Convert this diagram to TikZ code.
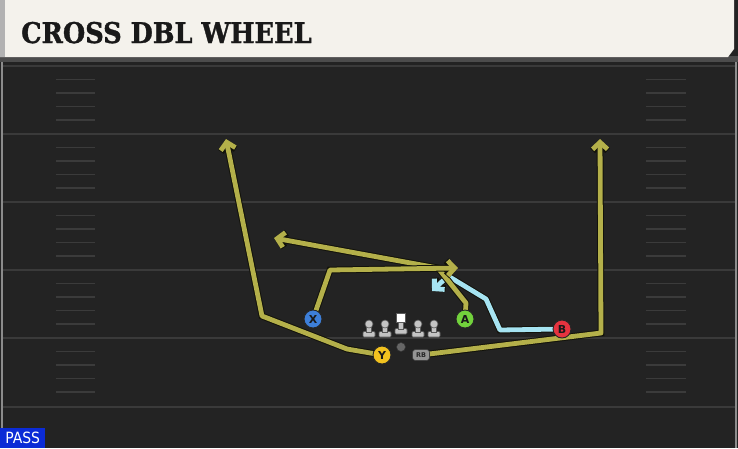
\documentclass[tikz,border=0pt]{standalone}
\usepackage{fontspec}
\setmainfont{DejaVu Sans}
\newfontfamily\titlefont[FakeBold=1.2]{DejaVu Serif Condensed Bold}
\newfontfamily\passfont{DejaVu Sans Condensed}
\usetikzlibrary{arrows.meta}
\pgfdeclarelayer{field}
\pgfdeclarelayer{routes}
\pgfsetlayers{field,routes,main}
\definecolor{fieldbg}{HTML}{232323}
\definecolor{yardline}{HTML}{3A3A3A}
\definecolor{hashc}{HTML}{3B3B3B}
\definecolor{header}{HTML}{F4F2EC}
\definecolor{routeolive}{HTML}{B4B04A}
\definecolor{routeblue}{HTML}{A6E4F2}
\definecolor{routeedge}{HTML}{12120A}
\definecolor{xblue}{HTML}{3D7FD9}
\definecolor{agreen}{HTML}{72D23C}
\definecolor{bred}{HTML}{E5333F}
\definecolor{yyellow}{HTML}{F2C21F}
\definecolor{linegrey}{HTML}{C4C4C4}
\definecolor{passblue}{HTML}{0B2BD6}
\tikzset{
  player/.style={circle, draw=black!85, line width=0.9pt, minimum size=18pt, inner sep=0pt,
                 font=\fontsize{11}{11}\selectfont\bfseries, text=black!90},
  routeo/.style={draw=routeolive, line width=4.8pt, line join=round,
                 preaction={draw=routeedge, line width=6.8pt}},
  routeb/.style={draw=routeblue, line width=4.8pt, line join=round,
                 preaction={draw=routeedge, line width=6.8pt}},
  tip/.style={-{Straight Barb[length=7pt,width=15pt,line join=miter]}},
  lman/.style={fill=linegrey, draw=black!65, line width=0.6pt},
}
\begin{document}
\begin{tikzpicture}[x=1pt,y=-1pt]
\useasboundingbox (0,0) rectangle (738,448);
\begin{pgfonlayer}{field}
  \fill[fieldbg] (0,0) rectangle (738,448);
  \fill[black!45] (1,60) rectangle (3,448);
  \fill[black!45] (735,60) rectangle (737,448);
  \fill[black!70] (0,56) rectangle (738,62);
  % header
  \fill[header] (0,0) -- (734,0) -- (734,49) -- (728,57) -- (0,57) -- cycle;
  \fill[black!30] (0,0) rectangle (5,57);
  % yard lines
  \foreach \yy in {66,134,202,270,338,407}
    \draw[yardline, line width=2pt] (3,\yy) -- (735,\yy);
  % hashes
  \foreach \yy in {66,134,202,270,338}
    \foreach \dd in {13.5,27,40.5,54}{
      \draw[hashc, line width=1.5pt] (56,\yy+\dd) -- (95,\yy+\dd);
      \draw[hashc, line width=1.5pt] (646,\yy+\dd) -- (686,\yy+\dd);
    }
\end{pgfonlayer}

\node[anchor=base west, inner sep=0pt, font=\titlefont\fontsize{28.5}{28.5}\selectfont, text=black!90]
  (title) at (21,43) {CROSS DBL WHEEL};

% pass tag
\node[fill=passblue, anchor=south west, minimum width=45pt, minimum height=20pt, inner sep=0pt,
      text=white, font=\passfont\fontsize{15.5}{15.5}\selectfont] (pass) at (0,448) {PASS};

% players
\node[player, fill=xblue] (X) at (313,319) {X};
\node[player, fill=agreen] (A) at (465,319) {A};
\node[player, fill=bred] (B) at (562,329) {B};
\node[player, fill=yyellow] (Y) at (382,355) {Y};
\node[rounded corners=3pt, fill=black!42, draw=black!75, line width=0.6pt, minimum width=17pt,
      minimum height=11pt, inner sep=0pt, font=\fontsize{6.5}{6.5}\selectfont\bfseries, text=black!85]
  (RB) at (421,355) {RB};
\node[circle, fill=black!60, draw=black!80, line width=0.5pt, minimum size=9pt, inner sep=0pt] (QB) at (401,347) {};

% linemen
\foreach \xx in {369,385,418,434}{
  \fill[lman, rounded corners=1pt] (\xx-6,331.5) rectangle (\xx+6,337);
  \fill[lman] (\xx-2.4,324) rectangle (\xx+2.4,332);
  \fill[lman] (\xx,324) circle (4pt);
}
\fill[lman, rounded corners=1pt] (395,328.5) rectangle (407,334);
\fill[lman] (398.6,321) rectangle (403.4,329);
\fill[white, draw=black!65, line width=0.6pt] (396.5,313.5) rectangle (405.5,322);

% route waypoints
\coordinate (y1) at (347,349);
\coordinate (y2) at (262,316);
\coordinate (y3) at (226,139);
\coordinate (r1) at (601,333);
\coordinate (r2) at (600,139);
\coordinate (x1) at (330,270);
\coordinate (x2) at (458,268);
\coordinate (a1) at (466,303);
\coordinate (a2) at (438,268);
\coordinate (a3) at (274,238);
\coordinate (b1) at (500,330);
\coordinate (b2) at (486,299);
\coordinate (b3) at (448,276);
\coordinate (b4) at (432,291);

\begin{pgfonlayer}{routes}
  \draw[routeo, tip] (Y.center) -- (y1) -- (y2) -- (y3);
  \draw[routeo, tip] (RB.center) -- (r1) -- (r2);
  \draw[routeb, tip] (B.center) -- (b1) -- (b2) -- (b3) -- (b4);
  \draw[routeo, tip] (A.center) -- (a1) -- (a2) -- (a3);
  \draw[routeo, tip] (X.center) -- (x1) -- (x2);
\end{pgfonlayer}
\end{tikzpicture}
\end{document}
